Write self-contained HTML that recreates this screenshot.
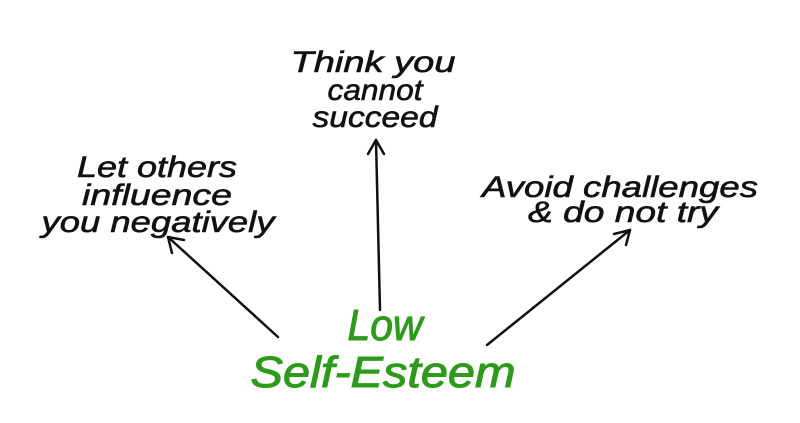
<!DOCTYPE html>
<html><head><meta charset="utf-8"><style>
html,body{margin:0;padding:0;background:#fff;}
svg{display:block;}
text{font-family:"Liberation Sans","DejaVu Sans",sans-serif;font-style:italic;fill:#111;}
</style></head><body>
<svg width="800" height="423" viewBox="0 0 800 423" xmlns="http://www.w3.org/2000/svg">
<g font-size="30" text-anchor="middle" stroke="#111" stroke-width="0.6">
<text x="373" y="72" textLength="165" lengthAdjust="spacingAndGlyphs">Think you</text>
<text x="375" y="100" textLength="95" lengthAdjust="spacingAndGlyphs">cannot</text>
<text x="375" y="127" textLength="125" lengthAdjust="spacingAndGlyphs">succeed</text>
<text x="157" y="177" textLength="160" lengthAdjust="spacingAndGlyphs">Let others</text>
<text x="157" y="205" textLength="150" lengthAdjust="spacingAndGlyphs">influence</text>
<text x="158" y="232" textLength="233" lengthAdjust="spacingAndGlyphs">you negatively</text>
<text x="620" y="197" textLength="276" lengthAdjust="spacingAndGlyphs">Avoid challenges</text>
<text x="623" y="222" textLength="190" lengthAdjust="spacingAndGlyphs">&amp; do not try</text>
</g>
<g font-size="44" text-anchor="middle" stroke="#2e9a1c" stroke-width="1">
<text x="385" y="340" textLength="75" lengthAdjust="spacingAndGlyphs" style="fill:#2e9a1c">Low</text>
<text x="383" y="387" textLength="265" lengthAdjust="spacingAndGlyphs" style="fill:#2e9a1c">Self-Esteem</text>
</g>
<g stroke="#111" stroke-width="2.5" fill="none" stroke-linecap="round" stroke-linejoin="round">
<path d="M278 337 L168 237"/>
<path d="M168 237 L172 253 M168 237 L184 240"/>
<path d="M380 310 L376 140"/>
<path d="M376 140 L368 154 M376 140 L384 154"/>
<path d="M487 345 L630 230"/>
<path d="M630 230 L614 234 M630 230 L626 245"/>
</g>
</svg>
</body></html>
